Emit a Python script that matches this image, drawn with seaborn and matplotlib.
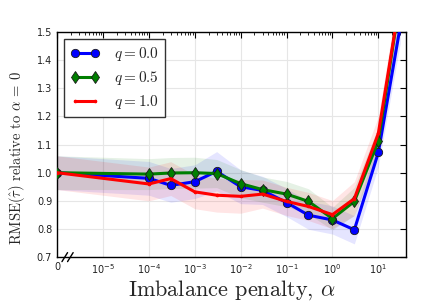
import numpy as np
import pandas as pd
import matplotlib
matplotlib.use("Agg")
import matplotlib.pyplot as plt
import seaborn as sns
from matplotlib.ticker import FixedLocator, FixedFormatter, LogLocator, NullFormatter

# ---- data ----
alpha = [0, 1e-4, 3e-4, 1e-3, 3e-3, 1e-2, 3e-2, 0.1, 0.3, 1, 3, 10, 30]
q_labels = ["$q = 0.0$", "$q = 0.5$", "$q = 1.0$"]
rmse_q00 = [1.0, 0.98, 0.955, 0.968, 1.005, 0.95, 0.937, 0.894, 0.849, 0.832, 0.797, 1.072, 1.52]
rmse_q05 = [1.0, 0.995, 0.999, 1.0, 0.997, 0.961, 0.94, 0.924, 0.898, 0.837, 0.898, 1.113, 1.62]
rmse_q10 = [1.0, 0.96, 0.979, 0.932, 0.92, 0.916, 0.924, 0.898, 0.88, 0.851, 0.908, 1.14, 1.62]
band_q00 = [0.06, 0.06, 0.06, 0.06, 0.07, 0.06, 0.05, 0.05, 0.05, 0.05, 0.05, 0.05, 0.06]
band_q05 = [0.06, 0.055, 0.055, 0.055, 0.05, 0.05, 0.045, 0.045, 0.045, 0.04, 0.05, 0.05, 0.06]
band_q10 = [0.06, 0.06, 0.06, 0.06, 0.06, 0.06, 0.05, 0.05, 0.05, 0.05, 0.06, 0.06, 0.06]
x_tick_labels = ["0", r"$\mathdefault{10^{-5}}$", r"$\mathdefault{10^{-4}}$", r"$\mathdefault{10^{-3}}$",
                 r"$\mathdefault{10^{-2}}$", r"$\mathdefault{10^{-1}}$", r"$\mathdefault{10^{0}}$",
                 r"$\mathdefault{10^{1}}$"]
y_ticks = [0.7, 0.8, 0.9, 1.0, 1.1, 1.2, 1.3, 1.4, 1.5]

ZERO_POS = 1e-6  # where alpha = 0 is drawn on the log axis

sns.set_theme(style="white")
plt.rcParams["font.family"] = ["cmr10", "DejaVu Serif"]
plt.rcParams["mathtext.fontset"] = "cm"
plt.rcParams["axes.formatter.use_mathtext"] = True
plt.rcParams["axes.unicode_minus"] = False

colors = ["#0000ff", "#007f00", "#ff0000"]
markers = ["o", "d", "."]
msizes = [6, 6, 4]
series = [rmse_q00, rmse_q05, rmse_q10]
bands = [band_q00, band_q05, band_q10]

x_plot = [a if a > 0 else ZERO_POS for a in alpha]

fig = plt.figure(figsize=(4.26, 3.05), dpi=100)
ax = fig.add_axes([0.134, 0.157, 0.819, 0.738])

for lab, col, mk, ms, ys, bw in zip(q_labels, colors, markers, msizes, series, bands):
    df = pd.DataFrame({"alpha": x_plot, "rmse": ys})
    lo = np.array(ys) - np.array(bw)
    hi = np.array(ys) + np.array(bw)
    ax.fill_between(x_plot, lo, hi, color=col, alpha=0.1, linewidth=0)
    sns.lineplot(data=df, x="alpha", y="rmse", ax=ax, color=col, marker=mk,
                 markersize=ms, markeredgecolor="k" if mk != "." else col,
                 markeredgewidth=0.6, linewidth=2.2, label=lab, zorder=3)

ax.set_xscale("log")
ax.set_xlim(ZERO_POS, 40)
ax.set_ylim(0.7, 1.5)

major_x = [ZERO_POS, 1e-5, 1e-4, 1e-3, 1e-2, 1e-1, 1, 10]
ax.xaxis.set_major_locator(FixedLocator(major_x))
ax.xaxis.set_major_formatter(FixedFormatter(x_tick_labels))
ax.xaxis.set_minor_locator(LogLocator(base=10, subs=np.arange(2, 10), numticks=30))
ax.xaxis.set_minor_formatter(NullFormatter())
ax.set_yticks(y_ticks)
ax.set_yticklabels([f"{v:.1f}" for v in y_ticks])

ax.grid(True, which="major", color="#e6e6e6", linewidth=0.8, linestyle="-")
ax.set_axisbelow(True)
for s in ax.spines.values():
    s.set_color("black")
    s.set_linewidth(1.0)
ax.tick_params(which="both", direction="in", top=True, right=True, colors="black")
ax.tick_params(which="major", length=4, width=0.8)
ax.tick_params(which="minor", length=2, width=0.6)
for t in ax.get_xticklabels() + ax.get_yticklabels():
    t.set_fontfamily("DejaVu Sans")
    t.set_fontsize(7)
    t.set_color("#222222")

ax.set_xlabel(r"Imbalance penalty, $\alpha$", fontsize=16, labelpad=2)
ax.set_ylabel(r"RMSE($\hat{\tau}$) relative to $\alpha$ = 0", fontsize=10.5)
ax.yaxis.set_label_coords(-0.085, 0.44)

# axis break mark
for dx in (0.022, 0.038):
    ax.plot([dx - 0.008, dx + 0.008], [-0.02, 0.02], transform=ax.transAxes,
            color="black", linewidth=1.0, clip_on=False, zorder=5)

leg = ax.legend(loc="upper left", fontsize=11, frameon=True, fancybox=False,
                edgecolor="#333333", framealpha=1, borderpad=0.4, labelspacing=0.4,
                handlelength=1.9, handletextpad=1.0, borderaxespad=0.45, numpoints=2)
leg.get_frame().set_linewidth(1.0)

fig.savefig("out.png", dpi=100)
